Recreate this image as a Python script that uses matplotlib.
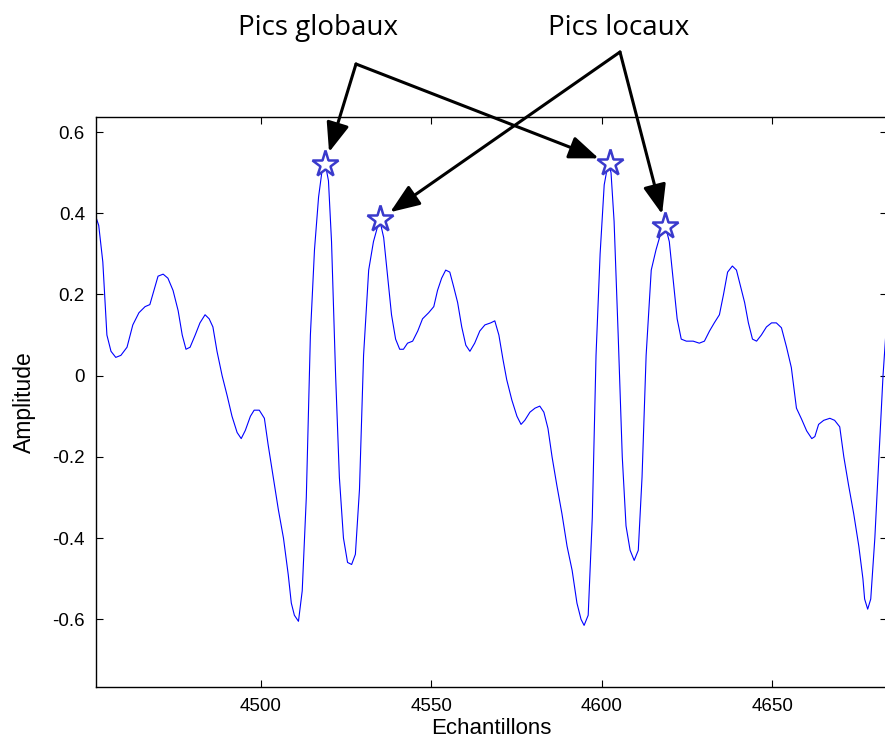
import numpy as np
import matplotlib
matplotlib.use('Agg')
import matplotlib.pyplot as plt
from matplotlib.ticker import FuncFormatter

plt.rcParams['font.family'] = ['Liberation Sans', 'DejaVu Sans']
plt.rcParams['axes.unicode_minus'] = False

# --- données ---
echantillons = [4451.6, 4452.4, 4453.6, 4454.8, 4456.0, 4457.4, 4458.9, 4460.7, 4462.4, 4464.2,
                4466.0, 4467.4, 4468.6, 4469.8, 4471.3, 4472.7, 4474.2, 4475.7, 4476.9, 4478.0,
                4479.2, 4480.7, 4482.1, 4483.6, 4484.8, 4485.9, 4487.1, 4488.6, 4490.1, 4491.5,
                4493.0, 4494.2, 4495.4, 4496.9, 4498.0, 4499.5, 4501.0, 4502.1, 4503.6, 4505.1,
                4506.6, 4508.0, 4508.9, 4509.8, 4511.0, 4512.1, 4513.3, 4514.5, 4515.7, 4516.9,
                4518.0, 4518.9, 4519.8, 4520.7, 4521.9, 4523.0, 4524.2, 4525.4, 4526.6, 4527.7,
                4528.9, 4530.1, 4531.6, 4533.0, 4534.8, 4536.0, 4537.1, 4538.3, 4539.5, 4540.7,
                4541.8, 4543.0, 4544.5, 4546.0, 4547.4, 4549.2, 4550.7, 4551.8, 4553.0, 4554.2,
                4555.4, 4556.5, 4557.7, 4558.9, 4560.1, 4561.3, 4562.7, 4564.2, 4565.7, 4567.4,
                4568.6, 4569.8, 4571.0, 4572.1, 4573.6, 4575.1, 4576.3, 4577.4, 4578.9, 4580.4,
                4581.8, 4583.0, 4584.2, 4585.4, 4586.8, 4588.3, 4589.8, 4591.3, 4592.7, 4593.9,
                4594.8, 4596.0, 4597.2, 4598.3, 4599.5, 4600.7, 4601.9, 4602.7, 4603.6, 4604.8,
                4606.0, 4607.1, 4608.3, 4609.5, 4610.7, 4611.8, 4613.0, 4614.5, 4615.9, 4617.1,
                4618.6, 4619.8, 4621.0, 4622.1, 4623.3, 4624.8, 4626.8, 4628.6, 4630.1, 4631.6,
                4633.0, 4634.5, 4635.7, 4636.9, 4638.3, 4639.5, 4640.7, 4641.9, 4643.0, 4644.2,
                4645.4, 4646.8, 4648.3, 4649.8, 4651.2, 4652.7, 4654.2, 4655.6, 4657.1, 4658.6,
                4660.1, 4661.6, 4662.5, 4663.6, 4665.1, 4666.9, 4668.3, 4669.8, 4671.0, 4672.4,
                4673.9, 4675.4, 4676.6, 4677.1, 4678.0, 4678.9, 4680.1, 4681.3, 4682.5, 4683.7]
amplitude = [0.39, 0.37, 0.28, 0.10, 0.06, 0.045, 0.05, 0.07, 0.125, 0.155,
             0.17, 0.175, 0.21, 0.245, 0.25, 0.24, 0.21, 0.16, 0.10, 0.065,
             0.07, 0.10, 0.13, 0.15, 0.14, 0.12, 0.06, 0.00, -0.05, -0.10,
             -0.14, -0.155, -0.135, -0.10, -0.085, -0.085, -0.105, -0.17, -0.25, -0.33,
             -0.40, -0.49, -0.56, -0.59, -0.605, -0.53, -0.30, 0.10, 0.31, 0.44,
             0.51, 0.52, 0.48, 0.33, 0.00, -0.25, -0.40, -0.46, -0.465, -0.44,
             -0.28, 0.05, 0.26, 0.33, 0.385, 0.34, 0.25, 0.15, 0.09, 0.065,
             0.065, 0.08, 0.085, 0.11, 0.14, 0.155, 0.17, 0.21, 0.24, 0.26,
             0.255, 0.22, 0.18, 0.12, 0.075, 0.06, 0.08, 0.11, 0.125, 0.13,
             0.135, 0.10, 0.04, -0.01, -0.06, -0.10, -0.12, -0.11, -0.09, -0.08,
             -0.075, -0.09, -0.13, -0.20, -0.27, -0.34, -0.42, -0.48, -0.56, -0.60,
             -0.615, -0.59, -0.35, 0.05, 0.30, 0.47, 0.525, 0.50, 0.38, 0.10,
             -0.20, -0.37, -0.43, -0.455, -0.43, -0.25, 0.05, 0.26, 0.31, 0.345,
             0.37, 0.33, 0.23, 0.14, 0.09, 0.085, 0.085, 0.08, 0.085, 0.11,
             0.13, 0.15, 0.20, 0.255, 0.27, 0.26, 0.22, 0.18, 0.13, 0.09,
             0.085, 0.10, 0.12, 0.13, 0.13, 0.118, 0.07, 0.02, -0.08, -0.107,
             -0.136, -0.155, -0.15, -0.12, -0.11, -0.105, -0.11, -0.126, -0.20, -0.27,
             -0.34, -0.42, -0.50, -0.55, -0.575, -0.55, -0.40, -0.20, 0.00, 0.15]

# pics détectés
pics_globaux_x = [4518.9, 4602.5]
pics_globaux_y = [0.521, 0.524]
pics_locaux_x = [4534.9, 4618.6]
pics_locaux_y = [0.385, 0.368]

xticks = [4500, 4550, 4600, 4650]
yticks = [-0.6, -0.4, -0.2, 0, 0.2, 0.4, 0.6]

# --- figure ---
W, H = 885, 743
fig = plt.figure(figsize=(W / 100, H / 100), dpi=100)
ax = fig.add_axes([96 / W, 1 - 686.7 / H, 1 - 96 / W + 0.002, (686.7 - 117) / H])

ax.plot(echantillons, amplitude, color='#0000ff', lw=0.8)
ax.plot(pics_globaux_x + pics_locaux_x, pics_globaux_y + pics_locaux_y, ls='none',
        marker='*', ms=20, mfc='white', mec='#3a3acc', mew=1.8)

ax.set_xlim(4451.6, 4683.6)
ax.set_ylim(-0.766, 0.637)
ax.set_xticks(xticks)
ax.set_yticks(yticks)
ax.yaxis.set_major_formatter(FuncFormatter(lambda v, p: '0' if abs(v) < 1e-9 else f'{v:g}'))
ax.tick_params(direction='in', length=5, width=0.8, top=True, right=True,
               labelsize=13.5, pad=8)
for s in ax.spines.values():
    s.set_linewidth(1.0)

ax.set_xlabel('Echantillons', fontsize=16, labelpad=2)
ax.set_ylabel('Amplitude', fontsize=16.5, labelpad=12)

# --- annotations ---
def px(x, y):
    return (x / W, 1 - y / H)

arrow = dict(arrowstyle='-|>,head_length=0.9,head_width=0.35', color='black',
             lw=2.2, mutation_scale=20, shrinkA=0, shrinkB=9)
sommet_g = px(356, 64)
sommet_l = px(620, 52)
for x, y in zip(pics_globaux_x, pics_globaux_y):
    ax.annotate('', xy=(x, y), xycoords='data', xytext=sommet_g, textcoords='figure fraction',
                arrowprops=arrow, annotation_clip=False)
for x, y in zip(pics_locaux_x, pics_locaux_y):
    ax.annotate('', xy=(x, y), xycoords='data', xytext=sommet_l, textcoords='figure fraction',
                arrowprops=arrow, annotation_clip=False)

fig.text(*px(318, 28), 'Pics globaux', ha='center', va='center', fontsize=20, family='Open Sans')
fig.text(*px(619, 28), 'Pics locaux', ha='center', va='center', fontsize=20, family='Open Sans')

fig.savefig('out.png', dpi=100)
